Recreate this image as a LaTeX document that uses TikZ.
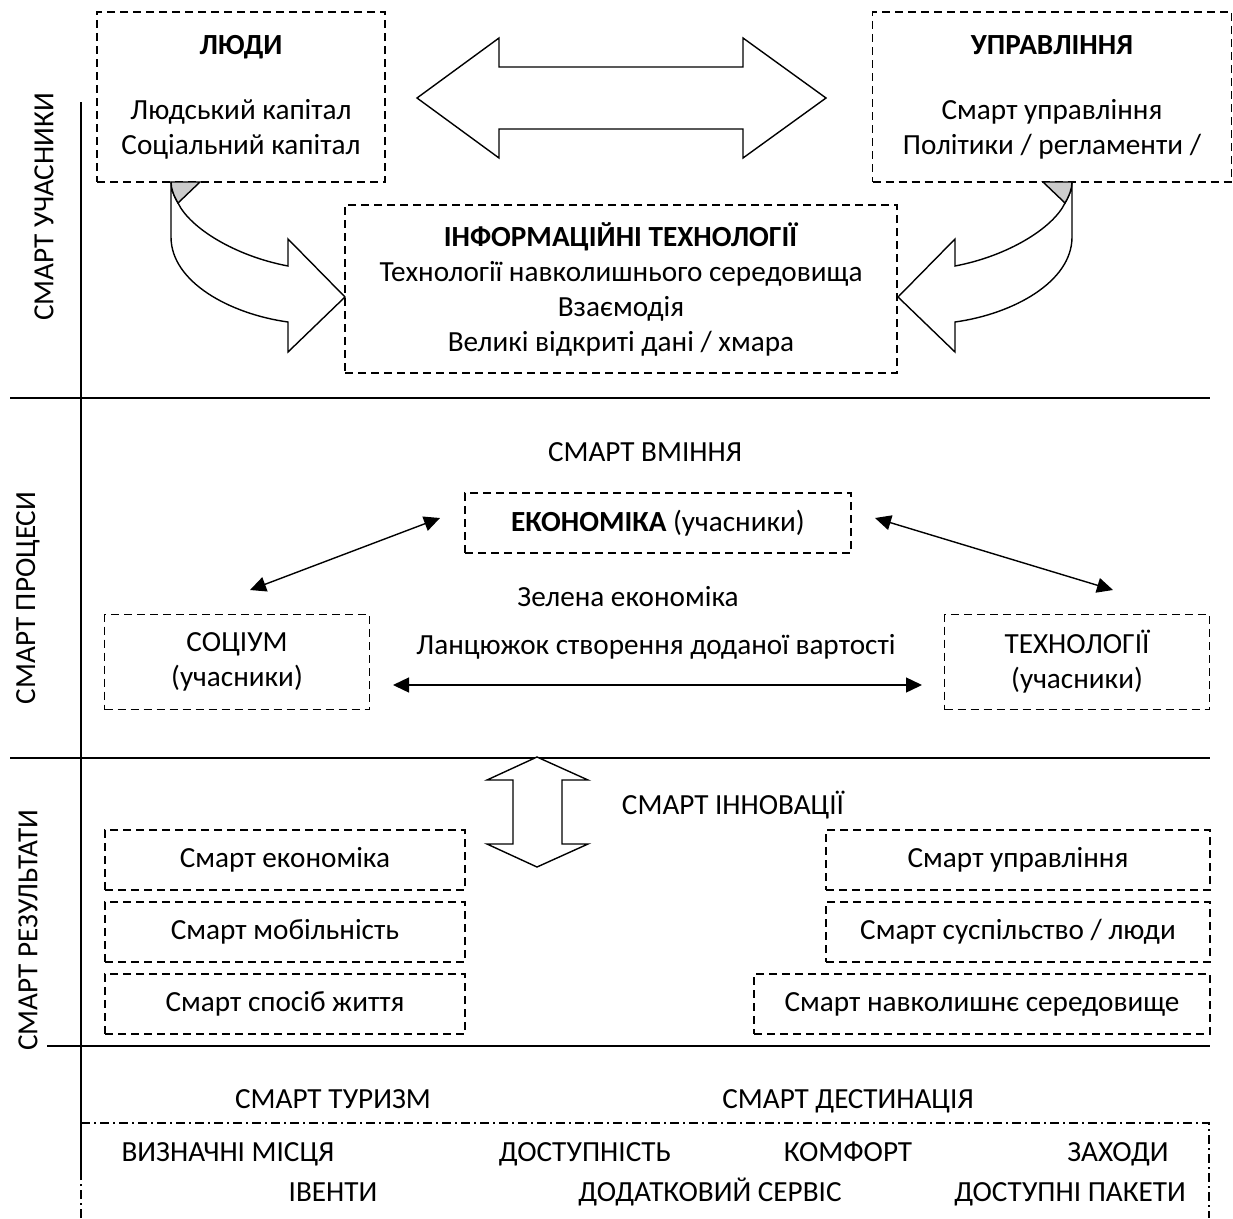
\documentclass[tikz,border=0pt]{standalone}
\usepackage{fontspec}
\setmainfont{Carlito}
\usetikzlibrary{arrows.meta}

\begin{document}
\begin{tikzpicture}[x=1pt,y=-1pt,
  font=\fontsize{29.2}{35}\selectfont,
  every path/.style={line width=1.4pt},
  dbox/.style={draw,dash pattern=on 8pt off 5pt,align=center,inner sep=0pt},
  txt/.style={text height=19pt,text depth=0pt},
  bigarr/.style={draw,fill=white,line join=miter},
  thin arr/.style={line width=2.6pt,{Triangle[length=16pt,width=15pt]}-{Triangle[length=16pt,width=15pt]}},
  dashdot/.style={dash pattern=on 9pt off 4pt on 2pt off 4pt}]
\useasboundingbox (0,0) rectangle (1233,1218);

\node[dbox,minimum width=288pt,minimum height=170pt] (people) at (241,97)
  {\textbf{ЛЮДИ}\\[30pt]Людський капітал\\Соціальний капітал};
\node[dbox,minimum width=359pt,minimum height=170pt] (govern) at (1052,97)
  {\textbf{УПРАВЛІННЯ}\\[30pt]Смарт управління\\Політики / регламенти /};
\node[dbox,minimum width=552pt,minimum height=168pt] (it) at (621,289)
  {\textbf{ІНФОРМАЦІЙНІ ТЕХНОЛОГІЇ}\\Технології навколишнього середовища\\Взаємодія\\Великі відкриті дані / хмара};

\draw[bigarr] (417,98) -- (499,38) -- (499,67) -- (743,67) -- (743,38) -- (826,98)
  -- (743,158) -- (743,129) -- (499,129) -- (499,158) -- cycle;

\draw[bigarr] (171,182) -- (171,237) .. controls (171,282) and (230,314) .. (288,322)
  -- (288,352) -- (345,297) -- (288,239) -- (288,266)
  .. controls (235,256) and (190,228) .. (178,203)
  .. controls (174,196) and (171,189) .. cycle;
\draw[fill=gray!40] (171,182) -- (200,182) -- (178,203) .. controls (174,196) and (171,189) .. cycle;
\draw[bigarr] (1072,182) -- (1072,237) .. controls (1072,282) and (1013,314) .. (955,322)
  -- (955,352) -- (898,297) -- (955,239) -- (955,266)
  .. controls (1008,256) and (1053,228) .. (1065,203)
  .. controls (1069,196) and (1072,189) .. cycle;
\draw[fill=gray!40] (1072,182) -- (1043,182) -- (1065,203) .. controls (1069,196) and (1072,189) .. cycle;

\node[rotate=90] (lab1) at (44,207) {СМАРТ УЧАСНИКИ};
\node[rotate=90] (lab2) at (28,598) {СМАРТ ПРОЦЕСИ};
\node[rotate=90] (lab3) at (28,930) {СМАРТ РЕЗУЛЬТАТИ};

\draw (81,102) -- (81,1173);
\draw (10,398) -- (1210,398);
\draw (10,758) -- (1210,758);
\draw (47,1046) -- (1210,1046);

\node[txt] (skill) at (645,452) {СМАРТ ВМІННЯ};
\node[dbox,minimum width=386pt,minimum height=60pt] (econ) at (658,523)
  {\textbf{ЕКОНОМІКА} (учасники)};
\node[dbox,minimum width=265pt,minimum height=95pt] (society) at (237,662)
  {СОЦІУМ\\(учасники)};
\node[dbox,minimum width=265pt,minimum height=95pt] (techn) at (1077,662)
  {ТЕХНОЛОГІЇ\\(учасники)};
\node[txt] (green) at (628,597) {Зелена економіка};
\node[txt] (chain) at (656,645) {Ланцюжок створення доданої вартості};

\coordinate (s1) at (250,590);
\coordinate (e1) at (440,518);
\coordinate (e2) at (875,518);
\coordinate (t1) at (1113,590);
\coordinate (s2) at (393,685);
\coordinate (t2) at (922,685);
\path[thin arr] (s1) edge (e1)
  (e2) edge (t1)
  (s2) edge (t2);

\draw[bigarr] (537,757) -- (588,780) -- (562,780) -- (562,844) -- (588,844) -- (537,867)
  -- (487,844) -- (513,844) -- (513,780) -- (487,780) -- cycle;
\node[txt] (innov) at (733,805) {СМАРТ ІННОВАЦІЇ};

\node[dbox,minimum width=360pt,minimum height=60pt] (r1) at (285,860) {Смарт економіка};
\node[dbox,minimum width=360pt,minimum height=60pt] (r2) at (285,932) {Смарт мобільність};
\node[dbox,minimum width=360pt,minimum height=60pt] (r3) at (285,1004) {Смарт спосіб життя};
\node[dbox,minimum width=384pt,minimum height=60pt] (r4) at (1018,860) {Смарт управління};
\node[dbox,minimum width=384pt,minimum height=60pt] (r5) at (1018,932) {Смарт суспільство / люди};
\node[dbox,minimum width=456pt,minimum height=60pt] (r6) at (982,1004) {Смарт навколишнє середовище};

\node[txt] (tour) at (333,1099) {СМАРТ ТУРИЗМ};
\node[txt] (dest) at (848,1099) {СМАРТ ДЕСТИНАЦІЯ};
\draw[dashdot] (81,1218) -- (81,1123) -- (1209,1123) -- (1209,1218);
\node[txt] (d1) at (228,1152) {ВИЗНАЧНІ МІСЦЯ};
\node[txt] (d2) at (585,1152) {ДОСТУПНІСТЬ};
\node[txt] (d3) at (848,1152) {КОМФОРТ};
\node[txt] (d4) at (1118,1152) {ЗАХОДИ};
\node[txt] (d5) at (333,1192) {ІВЕНТИ};
\node[txt] (d6) at (710,1192) {ДОДАТКОВИЙ СЕРВІС};
\node[txt] (d7) at (1070,1192) {ДОСТУПНІ ПАКЕТИ};
\end{tikzpicture}
\end{document}
